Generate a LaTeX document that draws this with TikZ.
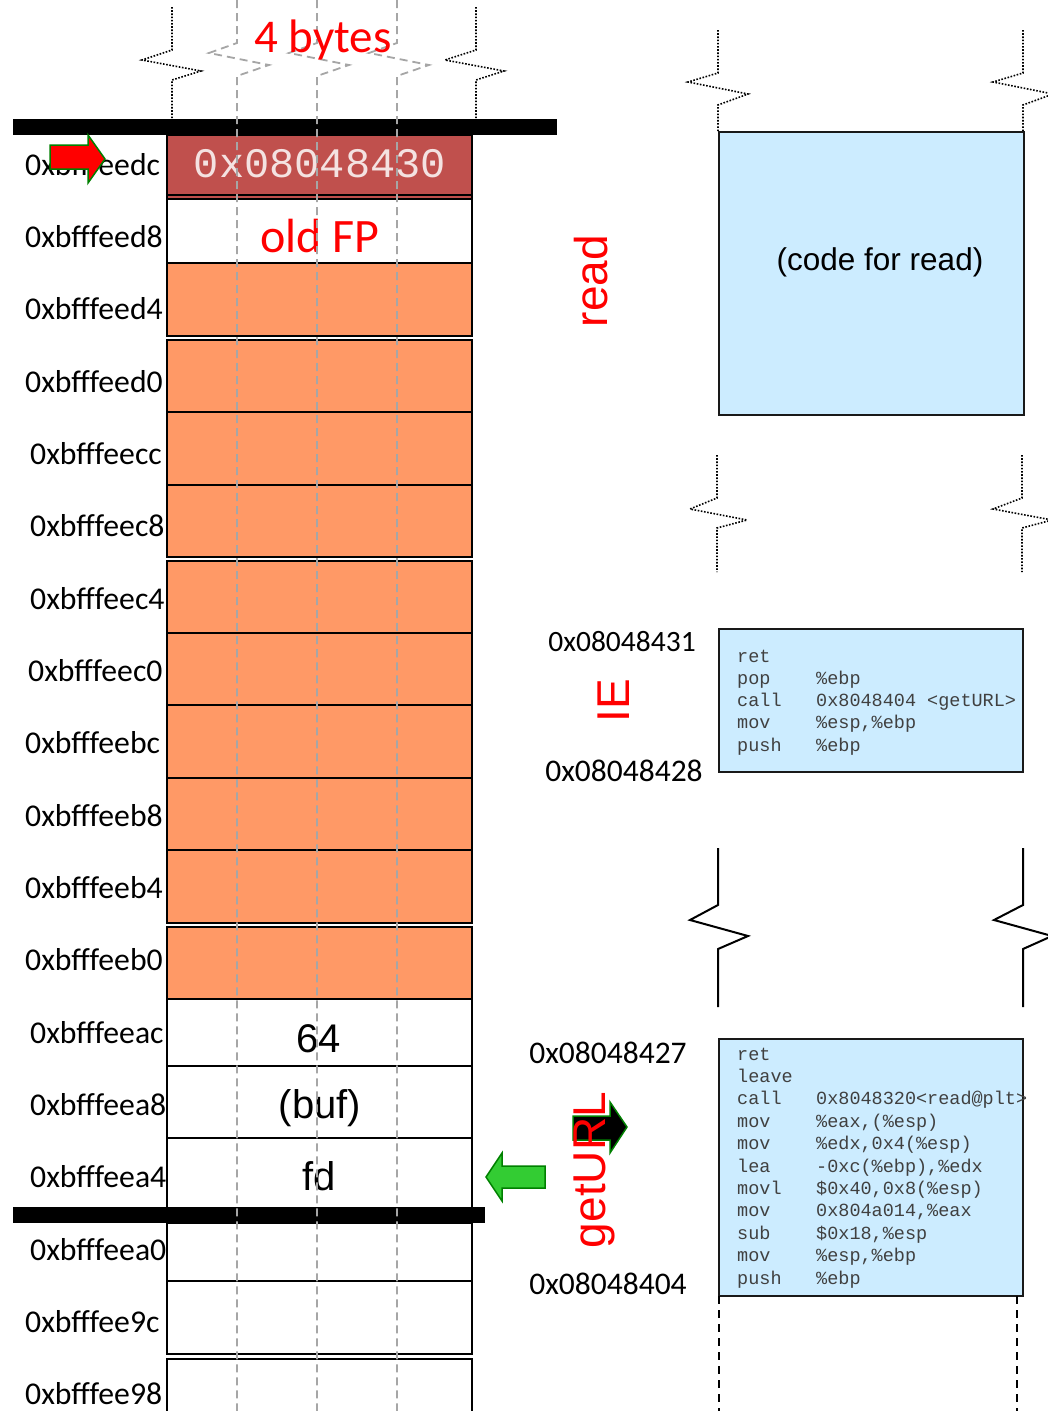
\documentclass[tikz,border=0pt]{standalone}
\usepackage{fontspec}
\setmainfont{Carlito}
\newfontfamily\arialf{Liberation Sans}
\newfontfamily\monof{Liberation Mono}
\definecolor{cellorange}{HTML}{FF9966}
\definecolor{cellred}{HTML}{C0504D}
\definecolor{codebg}{HTML}{CCECFF}
\definecolor{guide}{HTML}{A6A6A6}
\definecolor{arrowgreen}{HTML}{33CC33}
\definecolor{edgegreen}{HTML}{008000}
\definecolor{retfg}{HTML}{F4E2E1}
\definecolor{codefg}{HTML}{404040}
\tikzset{
  cellbox/.style={draw=black, line width=2pt, minimum width=305pt, inner sep=0pt, outer sep=0pt, anchor=north west},
  stackbar/.style={fill=black},
  guideline/.style={guide, line width=1.8pt, dash pattern=on 8pt off 5pt},
  breakdots/.style={black, line width=1.6pt, dash pattern=on 1.6pt off 1.6pt},
  breaksolid/.style={black, line width=2pt},
  codebox/.style={draw=black!90, line width=2pt, fill=codebg, inner sep=0pt, outer sep=0pt, anchor=north west},
  addr/.style={font=\fontsize{31.7}{31.7}\selectfont, inner sep=0pt, anchor=base west},
  hexlbl/.style={font=\fontsize{31.5}{31.5}\selectfont, inner sep=0pt, anchor=base},
  fnname/.style={text=red, font=\arialf\fontsize{46}{46}\selectfont, inner sep=0pt, anchor=base, rotate=90},
  asm/.style={text=codefg, font=\monof\fontsize{18.5}{18.5}\selectfont, inner sep=0pt, anchor=base west},
  celltext/.style={font=\arialf\fontsize{40}{40}\selectfont, inner sep=0pt, anchor=base},
}
\newcommand\asmline[4]{%
  \node[asm] (#1m) at (737,#2) {#3};
  \node[asm] (#1o) at (816,#2) {#4};}
\begin{document}
\begin{tikzpicture}[x=1pt,y=-1pt]
\useasboundingbox (0,0) rectangle (1048,1411);

% ---- stack slots ----
\node[cellbox, fill=cellred, minimum height=60pt] (sret) at (167,135) {};
\node[cellbox, fill=cellred, minimum height=4pt] (sstrip) at (167,195) {};
\node[cellbox, fill=white, minimum height=64pt] (sfp) at (167,199) {};
\foreach \t/\h [count=\i] in {263/73,340/72,412/73,485/72,561/72,633/72,705/73,778/72,850/73,927/72}
  \node[cellbox, fill=cellorange, minimum height=\h pt] (buf\i) at (167,\t) {};
\node[cellbox, fill=white, minimum height=67pt] (sarg3) at (167,999) {};
\node[cellbox, fill=white, minimum height=72pt] (sarg2) at (167,1066) {};
\node[cellbox, fill=white, minimum height=70pt] (sarg1) at (167,1138) {};
\node[cellbox, fill=white, minimum height=58pt] (slow1) at (167,1223) {};
\node[cellbox, fill=white, minimum height=73pt] (slow2) at (167,1281) {};
\node[cellbox, fill=white, minimum height=80pt] (slow3) at (167,1359) {};

% slot contents
\node[text=retfg, font=\monof\fontsize{42}{42}\selectfont, inner sep=0pt, anchor=base] (retval) at (320,177) {0x08048430};
\node[text=red, font=\fontsize{48}{48}\selectfont, inner sep=0pt, anchor=base] (oldfp) at (320,252) {old FP};
\node[celltext] (v64) at (319,1052) {64};
\node[celltext] (vbuf) at (320,1118) {(buf)};
\node[celltext] (vfd) at (319,1190) {fd};

% frame boundaries
\fill[stackbar] (13,119) rectangle (557,135);
\fill[stackbar] (13,1207) rectangle (485,1223);

% break marks above the stack
\draw[breakdots] (172,7) -- (172,50) -- (142,60) -- (201,71) -- (172,80) -- (172,118);
\draw[breakdots] (476,7) -- (476,50) -- (445,60) -- (504,71) -- (476,80) -- (476,118);

% byte guides
\foreach \gx in {237,317,397}
  \draw[guideline] (\gx,0) -- (\gx,43) -- (\gx-28,53) -- (\gx+32,65) -- (\gx,76) -- (\gx,1411);

\node[text=red, font=\fontsize{47}{47}\selectfont, inner sep=0pt, anchor=base] (bytes) at (323,52) {4 bytes};

% addresses
\foreach \a/\x [count=\i from 0] in {0xbfffeedc/25,0xbfffeed8/25,0xbfffeed4/25,0xbfffeed0/25,0xbfffeecc/30,0xbfffeec8/30,0xbfffeec4/30,0xbfffeec0/28,0xbfffeebc/25,0xbfffeeb8/25,0xbfffeeb4/25,0xbfffeeb0/25,0xbfffeeac/30,0xbfffeea8/30,0xbfffeea4/30,0xbfffeea0/30,0xbfffee9c/25,0xbfffee98/25}
  \node[addr] (addr\i) at (\x,{175+72.35*\i}) {\a};

% stack pointer arrows
\draw[edgegreen, line width=1.5pt, fill=red] (50,145) -- (88,145) -- (88,135) -- (105,159) -- (88,183) -- (88,169) -- (50,169) -- cycle;
\draw[edgegreen, line width=1.5pt, fill=arrowgreen] (545,1166) -- (502,1166) -- (502,1153) -- (486,1177) -- (502,1201) -- (502,1188) -- (545,1188) -- cycle;
\draw[edgegreen, line width=1.5pt, fill=black] (573,1116) -- (610,1116) -- (610,1102) -- (627,1127) -- (610,1153) -- (610,1140) -- (573,1140) -- cycle;

% function names
\node[fnname] (fread) at (607,281) {read};
\node[fnname] (fie) at (629,701) {IE};
\node[fnname] (fget) at (605,1170) {getURL};

% code addresses
\node[hexlbl, font=\fontsize{29.5}{29.5}\selectfont] (a431) at (622,651) {0x08048431};
\node[hexlbl] (a428) at (624,781) {0x08048428};
\node[hexlbl] (a427) at (608,1063) {0x08048427};
\node[hexlbl] (a404) at (608,1294) {0x08048404};

% code region: read
\draw[breakdots] (718,30) -- (718,73) -- (688,82) -- (748,94) -- (718,105) -- (718,132);
\draw[breakdots] (1023,30) -- (1023,73) -- (993,82) -- (1053,94) -- (1023,105) -- (1023,132);
\node[codebox, minimum width=305pt, minimum height=283pt] (readbox) at (719,132) {};
\node[font=\arialf\fontsize{31.5}{31.5}\selectfont, inner sep=0pt, anchor=base] (readtxt) at (880,270) {(code for read)};

\draw[breakdots] (717,455) -- (717,498) -- (690,509) -- (747,520) -- (717,528) -- (717,572);
\draw[breakdots] (1022,455) -- (1022,498) -- (993,509) -- (1052,520) -- (1022,528) -- (1022,572);

% code region: IE
\node[codebox, minimum width=304pt, minimum height=143pt] (iebox) at (719,629) {};
\asmline{ie1}{662}{ret}{}
\asmline{ie2}{684.3}{pop}{\%ebp}
\asmline{ie3}{706.6}{call}{0x8048404 <getURL>}
\asmline{ie4}{728.9}{mov}{\%esp,\%ebp}
\asmline{ie5}{751.2}{push}{\%ebp}

\draw[breaksolid] (718,848) -- (718,905) -- (690,920) -- (748,936) -- (718,949) -- (718,1007);
\draw[breaksolid] (1023,848) -- (1023,905) -- (994,920) -- (1052,936) -- (1023,949) -- (1023,1007);

% code region: getURL
\node[codebox, minimum width=304pt, minimum height=257pt] (getbox) at (719,1039) {};
\asmline{g1}{1060}{ret}{}
\asmline{g2}{1082.4}{leave}{}
\asmline{g3}{1104.8}{call}{0x8048320<read@plt>}
\asmline{g4}{1127.2}{mov}{\%eax,(\%esp)}
\asmline{g5}{1149.6}{mov}{\%edx,0x4(\%esp)}
\asmline{g6}{1172}{lea}{-0xc(\%ebp),\%edx}
\asmline{g7}{1194.4}{movl}{\$0x40,0x8(\%esp)}
\asmline{g8}{1216.8}{mov}{0x804a014,\%eax}
\asmline{g9}{1239.2}{sub}{\$0x18,\%esp}
\asmline{g10}{1261.6}{mov}{\%esp,\%ebp}
\asmline{g11}{1284}{push}{\%ebp}

\draw[black, line width=2pt, dash pattern=on 8pt off 6pt] (719,1296) -- (719,1411);
\draw[black, line width=2pt, dash pattern=on 8pt off 6pt] (1017,1296) -- (1017,1411);
\end{tikzpicture}
\end{document}
